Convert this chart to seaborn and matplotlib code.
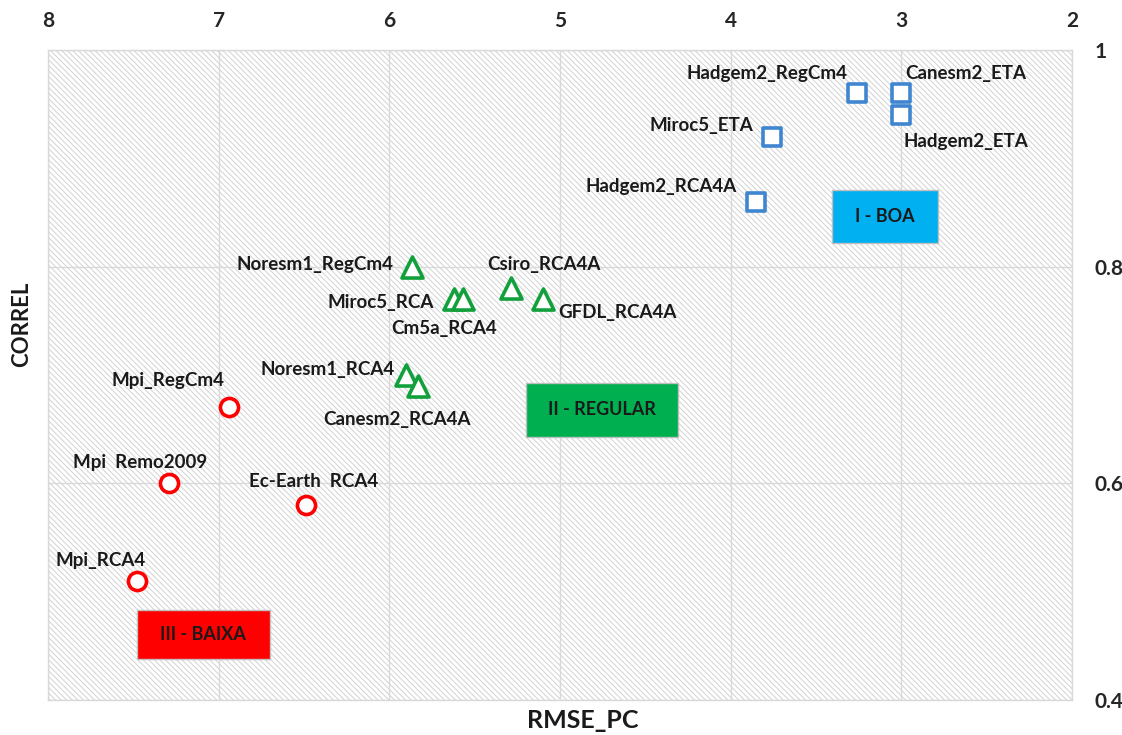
import matplotlib
matplotlib.use("Agg")
import matplotlib.pyplot as plt
import pandas as pd
import seaborn as sns
from matplotlib.patches import Rectangle

# dados
modelos = ["Hadgem2_RegCm4", "Canesm2_ETA", "Hadgem2_ETA", "Miroc5_ETA", "Hadgem2_RCA4A",
           "Noresm1_RegCm4", "Miroc5_RCA", "Cm5a_RCA4", "Csiro_RCA4A", "GFDL_RCA4A",
           "Noresm1_RCA4", "Canesm2_RCA4A",
           "Mpi_RegCm4", "Mpi  Remo2009", "Ec-Earth  RCA4", "Mpi_RCA4"]
rmse_pc = [3.26, 3.00, 3.00, 3.76, 3.85,
           5.87, 5.62, 5.57, 5.29, 5.10,
           5.90, 5.83,
           6.94, 7.29, 6.49, 7.48]
correl = [0.96, 0.96, 0.94, 0.92, 0.86,
          0.80, 0.77, 0.77, 0.78, 0.77,
          0.70, 0.69,
          0.67, 0.60, 0.58, 0.51]
classe = ["I"] * 5 + ["II"] * 7 + ["III"] * 4

classes = ["I", "II", "III"]
nomes_classe = ["I - BOA", "II - REGULAR", "III - BAIXA"]
cores = {"I": "#3F86D0", "II": "#12A03C", "III": "#FF0000"}
cores_caixa = {"I": "#00B0F0", "II": "#00B050", "III": "#FF0000"}
marcadores = {"I": "s", "II": "^", "III": "o"}
tamanhos = {"I": 170, "II": 230, "III": 170}

# caixas das classes (x0, x1, y0, y1) em coordenadas de dados
caixas = {"I": (3.407, 2.786, 0.822, 0.871),
          "II": (5.20, 4.31, 0.643, 0.693),
          "III": (7.48, 6.70, 0.438, 0.483)}

# deslocamento dos rótulos em pixels (dx, dy, ha)
desloc = {
    "Hadgem2_RegCm4": (-9, 20, "right"),
    "Canesm2_ETA": (4, 20, "left"),
    "Hadgem2_ETA": (2, -26, "left"),
    "Miroc5_ETA": (-18, 11, "right"),
    "Hadgem2_RCA4A": (-20, 15, "right"),
    "Noresm1_RegCm4": (-18, 2, "right"),
    "Csiro_RCA4A": (-23, 24, "left"),
    "Miroc5_RCA": (-20, -3, "right"),
    "Cm5a_RCA4": (-71, -29, "left"),
    "GFDL_RCA4A": (15, -13, "left"),
    "Noresm1_RCA4": (-12, 5, "right"),
    "Canesm2_RCA4A": (-95, -34, "left"),
    "Mpi_RegCm4": (-4, 27, "right"),
    "Mpi  Remo2009": (38, 21, "right"),
    "Ec-Earth  RCA4": (-57, 23, "left"),
    "Mpi_RCA4": (-81, 20, "left"),
}

df = pd.DataFrame({"modelo": modelos, "RMSE_PC": rmse_pc, "CORREL": correl, "classe": classe})

sns.set_style("white")
plt.rcParams["font.family"] = ["Lato", "DejaVu Sans"]
plt.rcParams["hatch.linewidth"] = 0.7

fig = plt.figure(figsize=(11.22, 7.35), dpi=100)
ax = fig.add_axes([48 / 1122, 1 - 700 / 735, 1024 / 1122, 650 / 735])

# fundo hachurado
ax.add_patch(Rectangle((0, 0), 1, 1, transform=ax.transAxes, facecolor="white",
                       edgecolor="#D2D2D2", linewidth=0, hatch="\\\\\\\\\\\\", zorder=0))
ax.set_xlim(8, 2)
ax.set_ylim(0.4, 1.0)
ax.set_xticks([8, 7, 6, 5, 4, 3, 2])
ax.set_yticks([0.4, 0.6, 0.8, 1.0])
ax.set_yticklabels(["0.4", "0.6", "0.8", "1"])
ax.grid(True, color="#D9D9D9", linewidth=1.0, zorder=1)
ax.set_axisbelow(False)

for c in classes:
    sub = df[df["classe"] == c]
    sns.scatterplot(data=sub, x="RMSE_PC", y="CORREL", ax=ax, marker=marcadores[c],
                    s=tamanhos[c], facecolor="white", edgecolor=cores[c],
                    linewidth=2.6, zorder=3, legend=False)

for m, x, y in zip(modelos, rmse_pc, correl):
    dx, dy, ha = desloc[m]
    ax.annotate(m, (x, y), xytext=(dx, dy), textcoords="offset pixels",
                ha=ha, va="center", fontsize=13.5, fontweight="bold", color="#1A1A1A", zorder=4)

for c, nome in zip(classes, nomes_classe):
    x0, x1, y0, y1 = caixas[c]
    ax.add_patch(Rectangle((x1, y0), x0 - x1, y1 - y0, facecolor=cores_caixa[c],
                           edgecolor="#BFBFBF", linewidth=1, zorder=3))
    ax.text((x0 + x1) / 2, (y0 + y1) / 2, nome, ha="center", va="center",
            fontsize=13, fontweight="bold", color="#1A1A1A", zorder=4)

ax.xaxis.tick_top()
ax.yaxis.tick_right()
ax.tick_params(axis="both", length=0, labelsize=15)
ax.tick_params(axis="x", pad=14)
ax.tick_params(axis="y", pad=16)
for lbl in ax.get_xticklabels() + ax.get_yticklabels():
    lbl.set_fontweight("bold")

ax.set_xlabel("")
ax.set_ylabel("")
fig.text(583 / 1122, 1 - 721 / 735, "RMSE_PC", ha="center", va="center",
         fontsize=18, fontweight="bold", color="#1A1A1A")
fig.text(22 / 1122, 1 - 324 / 735, "CORREL", ha="center", va="center", rotation=90,
         fontsize=16, fontweight="bold", color="#1A1A1A")

for s in ax.spines.values():
    s.set_color("#D9D9D9")
    s.set_linewidth(1)

fig.savefig("out.png", dpi=100)
